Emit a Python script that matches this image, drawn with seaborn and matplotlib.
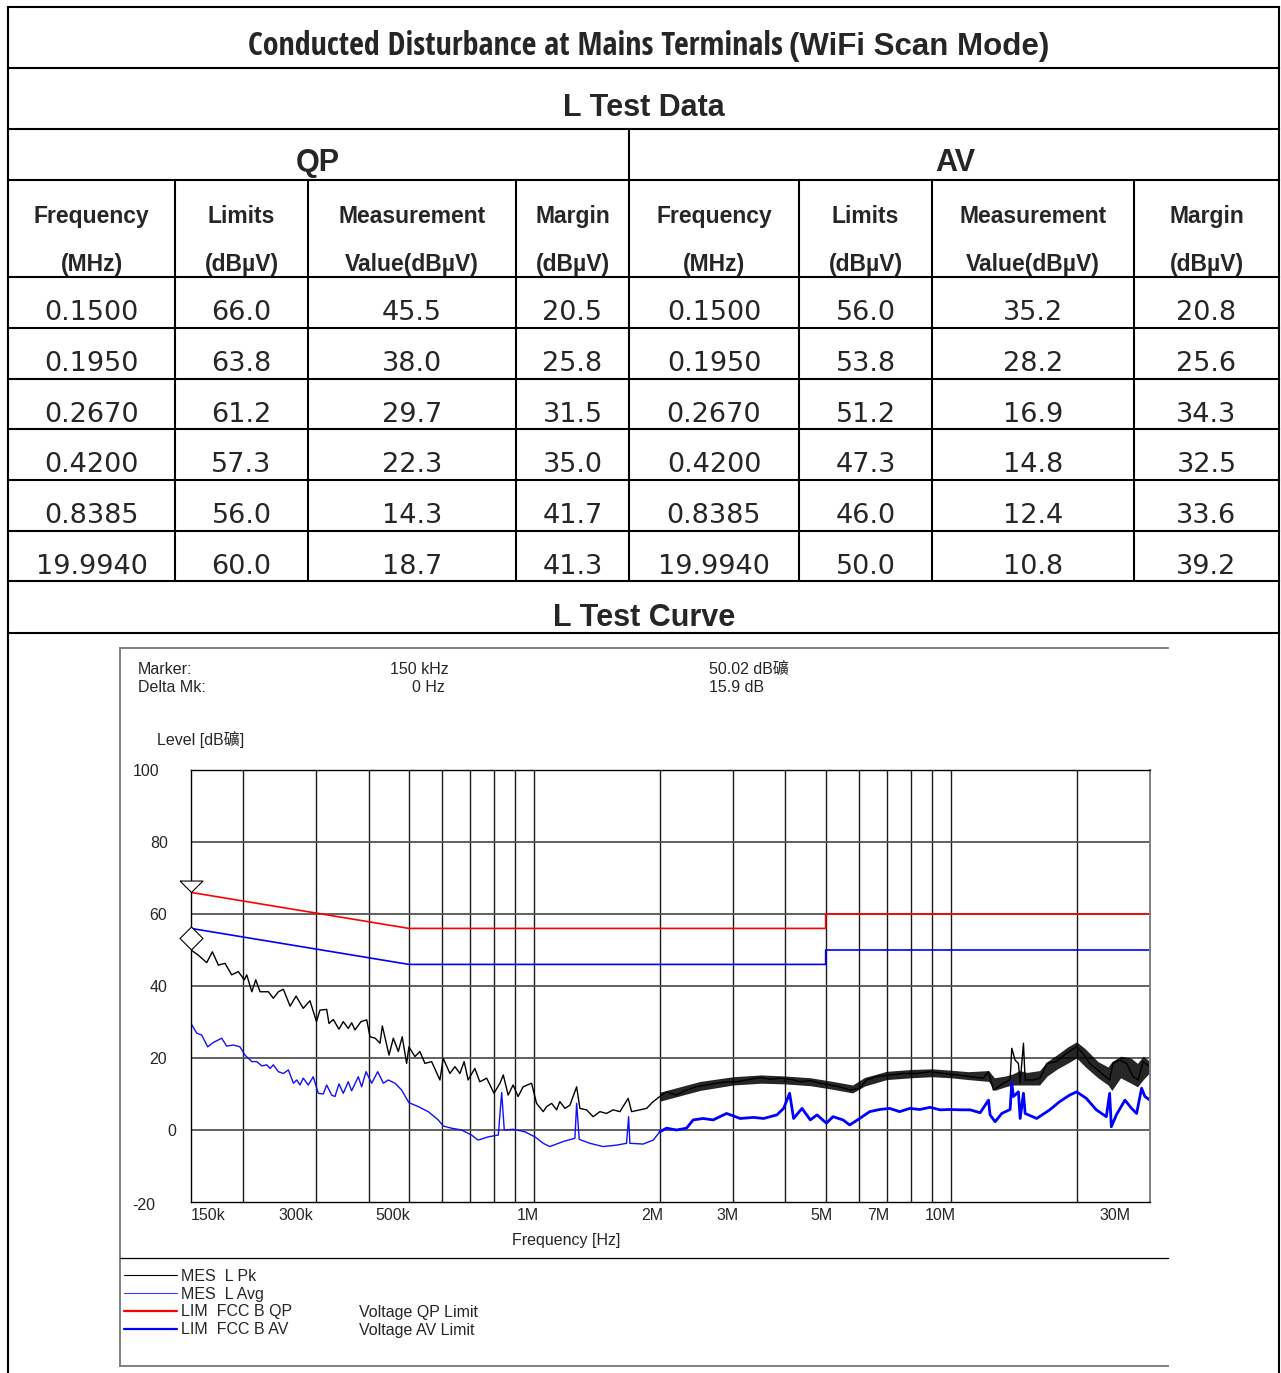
import matplotlib
matplotlib.use("Agg")
import matplotlib.pyplot as plt
import matplotlib.patheffects as pe
import seaborn as sns
from matplotlib.lines import Line2D
from matplotlib.ticker import FixedLocator, NullLocator
from matplotlib import font_manager
from matplotlib.font_manager import FontProperties

# ---------------- table values (L line) ----------------
freq_mhz = [0.1500, 0.1950, 0.2670, 0.4200, 0.8385, 19.9940]
qp_limit = [66.0, 63.8, 61.2, 57.3, 56.0, 60.0]
qp_value = [45.5, 38.0, 29.7, 22.3, 14.3, 18.7]
qp_margin = [20.5, 25.8, 31.5, 35.0, 41.7, 41.3]
av_limit = [56.0, 53.8, 51.2, 47.3, 46.0, 50.0]
av_value = [35.2, 28.2, 16.9, 14.8, 12.4, 10.8]
av_margin = [20.8, 25.6, 34.3, 32.5, 33.6, 39.2]

# ---------------- curve values (MHz, dBuV) ----------------
pk_f = [0.150, 0.156, 0.1636, 0.1688, 0.1745, 0.181, 0.1878, 0.1948, 0.2014, 0.2041,
        0.2099, 0.2145, 0.2197, 0.230, 0.2364, 0.2431, 0.2499, 0.2593, 0.268, 0.2789,
        0.2894, 0.300, 0.3058, 0.3174, 0.3215, 0.3292, 0.3397, 0.3479, 0.3576, 0.3644,
        0.3711, 0.3836, 0.396, 0.4033, 0.415, 0.4262, 0.4317, 0.448, 0.4587, 0.4716,
        0.4818, 0.4937, 0.500, 0.5168, 0.5313, 0.5462, 0.5668, 0.5934, 0.6043, 0.6271,
        0.6447, 0.6627, 0.6783, 0.6935, 0.7196, 0.7397, 0.7684, 0.800, 0.8269, 0.8422,
        0.8649, 0.8891, 0.914, 0.940, 0.9846, 1.012, 1.050, 1.070, 1.100, 1.131,
        1.151, 1.184, 1.217, 1.263, 1.286, 1.334, 1.384, 1.436, 1.490, 1.545,
        1.604, 1.679, 1.711, 1.791, 1.859, 1.928, 2.000, 2.075, 2.193, 2.318,
        2.450, 2.589, 2.736, 2.891, 3.062, 3.236, 3.483, 3.680, 3.889, 4.112,
        4.346, 4.592, 4.853, 5.112, 5.402, 5.709, 6.033, 6.26, 6.617, 7.117,
        7.667, 8.256, 8.90, 9.584, 10.32, 11.11, 11.95, 12.29, 12.63, 13.35,
        13.85, 13.98, 14.24, 14.50, 14.64, 14.91, 15.05, 15.74, 16.35, 16.97,
        17.89, 18.90, 20.0, 20.71, 21.49, 22.71, 24.0, 24.44, 25.36, 26.36,
        27.34, 28.11, 28.89, 30.0]
pk_db = [50.0, 48.6, 46.5, 49.5, 45.8, 46.3, 43.1, 44.0, 41.7, 43.1,
         38.4, 41.7, 38.4, 38.4, 36.6, 38.4, 39.1, 34.4, 37.2, 33.8,
         35.9, 30.1, 33.3, 33.5, 29.6, 30.7, 28.0, 30.1, 28.2, 29.8,
         27.8, 30.1, 30.6, 25.9, 25.5, 24.1, 28.9, 20.8, 25.5, 21.8,
         25.9, 18.5, 23.1, 20.4, 21.8, 18.5, 19.0, 13.9, 19.9, 15.7,
         17.6, 15.7, 19.0, 13.9, 17.1, 13.4, 14.4, 10.2, 13.0, 15.3,
         9.7, 12.5, 9.3, 12.0, 13.0, 7.4, 5.1, 6.5, 7.4, 5.6,
         7.9, 6.0, 6.9, 12.0, 6.0, 5.6, 3.7, 5.1, 4.6, 5.6,
         5.1, 8.8, 5.1, 5.6, 6.0, 7.9, 9.3, 10.6, 9.7, 11.1,
         12.0, 12.5, 13.0, 13.4, 13.4, 13.9, 14.6, 14.1, 14.4, 14.1,
         13.4, 13.7, 13.0, 12.5, 12.0, 11.1, 11.6, 13.9, 14.8, 15.3,
         15.7, 15.7, 16.2, 15.7, 15.3, 14.8, 14.4, 16.2, 11.1, 13.0,
         13.9, 22.7, 19.4, 18.5, 13.0, 24.1, 13.9, 13.9, 14.4, 18.5,
         19.0, 21.3, 23.1, 21.3, 18.5, 16.2, 13.9, 18.5, 19.4, 18.5,
         14.8, 13.9, 19.0, 17.6]

# spread of the noisy peak trace above 2 MHz (lower / upper edge)
pk_band_f = [2.0, 2.5, 3.0, 3.5, 4.0, 4.6, 5.2, 5.8, 6.2, 7.0,
             8.0, 9.0, 10.0, 11.0, 12.3, 12.7, 13.5, 14.0, 14.6, 15.2,
             16.3, 17.0, 18.0, 19.0, 20.0, 21.0, 22.5, 23.8, 24.3, 25.5,
             27.0, 28.0, 28.9, 30.0]
pk_band_lo = [8.0, 11.0, 12.5, 13.0, 12.8, 12.3, 11.3, 10.3, 12.2, 14.0,
              14.5, 14.8, 14.5, 14.0, 13.5, 11.0, 12.0, 12.5, 12.5, 12.5,
              12.5, 15.0, 17.0, 18.5, 20.0, 17.5, 14.5, 12.5, 11.0, 14.5,
              13.0, 12.0, 14.0, 16.0]
pk_band_hi = [10.5, 13.5, 14.8, 15.3, 15.0, 14.5, 13.5, 12.5, 14.6, 16.3,
              16.8, 17.0, 16.6, 16.2, 16.5, 14.5, 15.0, 15.5, 16.5, 16.0,
              16.5, 19.0, 21.0, 23.0, 24.5, 22.5, 19.0, 17.5, 19.0, 20.5,
              20.0, 18.5, 20.5, 19.0]

av_f = [0.150, 0.1548, 0.1591, 0.1645, 0.1697, 0.1777, 0.1827, 0.1895, 0.1966, 0.2022,
        0.2099, 0.2157, 0.2218, 0.228, 0.2322, 0.2364, 0.2431, 0.2499, 0.2569, 0.2641,
        0.2691, 0.2739, 0.2789, 0.2867, 0.2947, 0.303, 0.3115, 0.3174, 0.3263, 0.3323,
        0.3397, 0.3479, 0.3576, 0.3644, 0.378, 0.3851, 0.3945, 0.4071, 0.4208, 0.4341,
        0.4462, 0.4631, 0.4802, 0.500, 0.5264, 0.5562, 0.5879, 0.6043, 0.633, 0.6686,
        0.7066, 0.7329, 0.7752, 0.8193, 0.8347, 0.8468, 0.8891, 0.9489, 1.003, 1.050,
        1.089, 1.173, 1.251, 1.263, 1.281, 1.359, 1.462, 1.575, 1.664, 1.683,
        1.695, 1.824, 1.928, 2.000, 2.075, 2.193, 2.318, 2.404, 2.541, 2.685,
        2.891, 3.118, 3.356, 3.547, 3.819, 3.963, 4.096, 4.188, 4.387, 4.592,
        4.766, 5.02, 5.206, 5.502, 5.709, 6.033, 6.376, 6.738, 7.117, 7.521,
        7.956, 8.408, 8.90, 9.407, 9.945, 10.51, 11.11, 11.74, 12.29, 12.40,
        12.75, 13.23, 13.85, 13.98, 14.11, 14.50, 14.64, 14.91, 15.05, 16.04,
        17.24, 18.22, 19.25, 20.0, 21.10, 22.30, 23.57, 24.0, 24.23, 24.91,
        26.12, 27.10, 27.86, 28.64, 29.17, 30.0]
av_db = [29.6, 26.9, 26.4, 23.1, 24.3, 25.5, 23.3, 23.6, 23.1, 20.8,
         19.0, 19.0, 17.8, 18.1, 17.1, 18.1, 16.2, 15.7, 16.7, 13.0,
         13.9, 12.5, 14.4, 12.5, 14.8, 10.2, 10.0, 12.5, 9.7, 9.3,
         12.8, 10.2, 13.4, 10.9, 14.8, 12.0, 16.2, 13.0, 16.2, 13.0,
         13.9, 13.0, 11.1, 7.6, 6.5, 5.1, 2.8, 1.1, 0.5, 0.0,
         -1.4, -2.8, -1.9, -1.4, 10.4, 0.0, 0.2, -0.5, -1.9, -3.7,
         -4.6, -3.2, -2.3, 7.4, -2.6, -3.7, -4.6, -4.2, -3.7, 3.7,
         -3.7, -3.9, -2.8, -0.5, 0.5, 0.0, 0.5, 2.8, 3.2, 2.8,
         4.6, 3.2, 3.5, 3.2, 4.2, 6.0, 10.2, 3.2, 6.0, 2.8,
         4.2, 1.9, 3.7, 2.8, 1.4, 3.2, 5.1, 5.7, 6.0, 5.1,
         6.0, 5.7, 6.3, 5.6, 5.7, 5.6, 5.6, 4.8, 8.3, 4.2,
         2.3, 4.6, 5.7, 13.0, 9.3, 10.6, 3.2, 10.2, 4.6, 3.2,
         5.6, 7.9, 9.7, 10.6, 8.8, 5.6, 3.7, 10.2, 0.9, 4.2,
         8.3, 6.0, 4.6, 11.6, 9.3, 8.3]

# FCC class B limits
lim_f = [0.15, 0.5, 5.0, 5.0, 30.0]
qp_lim = [66, 56, 56, 60, 60]
av_lim = [56, 46, 46, 50, 50]

# marker symbols at 150 kHz
marker_f = 0.15
marker_qp = 66.0
marker_av = 53.3

tick_f = [0.15, 0.3, 0.5, 1, 2, 3, 5, 7, 10, 30]
tick_labels = ["150k", "300k", "500k", "1M", "2M", "3M", "5M", "7M", "10M", "30M"]
ytick_vals = [100, 80, 60, 40, 20, 0, -20]

legend_labels = ["MES  L Pk", "MES  L Avg", "LIM  FCC B QP", "LIM  FCC B AV"]

# ---------------- style ----------------
sns.set_style("white")
SANS = ["Liberation Sans", "Noto Sans CJK TC", "DejaVu Sans"]
plt.rcParams["font.family"] = SANS

W, H = 1281, 1373
PX = 100 / 72
fig = plt.figure(figsize=(W / 100, H / 100), dpi=100)
renderer = fig.canvas.get_renderer()


def fx(px):
    return px / W


def fy(py):
    return 1 - py / H


def seg(x0, y0, x1, y1, lw=1.5, color="black"):
    fig.add_artist(Line2D([fx(x0), fx(x1)], [fy(y0), fy(y1)], lw=lw, color=color,
                          solid_capstyle="projecting"))


def txt(x, yc, s, size, ha="center", weight="normal", family=None, **kw):
    # yc = visual centre of capitals in pixels
    if "fontproperties" in kw:
        return fig.text(fx(x), fy(yc + 0.358 * size * PX), s, ha=ha, va="baseline", **kw)
    return fig.text(fx(x), fy(yc + 0.358 * size * PX), s, ha=ha, va="baseline",
                    fontsize=size, fontweight=weight, family=family or SANS, **kw)


def _is_bold(w):
    return str(w).lower() in ("bold", "700", "800", "900") or (isinstance(w, int) and w >= 600)


# the first half of the title is set in a condensed bold face: pick the narrowest installed one
TITLE = "Conducted Disturbance at Mains Terminals"
pool = [FontProperties(family="Liberation Sans", weight="bold")]
for f in font_manager.fontManager.ttflist:
    okname = f.name.startswith(("Liberation Sans", "DejaVu Sans", "Noto Sans", "Roboto",
                                "Open Sans", "Lato", "Inter", "Arial"))
    bad = any(k in f.name for k in ("Mono", "CJK", "Serif", "Symbols", "Math"))
    if okname and not bad and _is_bold(f.weight) and str(f.style) == "normal":
        pool.append(FontProperties(fname=f.fname))
best, best_w = pool[0], None
for fp in pool:
    fp = fp.copy()
    fp.set_size(20)
    t = fig.text(0, 0, TITLE, fontproperties=fp)
    w = t.get_window_extent(renderer).width
    t.remove()
    if best_w is None or w < best_w:
        best, best_w = fp, w
title_size = min(23.0, 20 * 548 / best_w)
best.set_size(title_size)

# ---------------- table grid ----------------
rows = [7, 68, 129, 180, 277, 328, 379, 429, 480, 531, 581, 633]
cols = [8, 175, 308, 516, 629, 799, 932, 1134, 1279]
for y in rows:
    seg(8, y, 1279, y)
seg(8, 7, 8, H)
seg(1279, 7, 1279, H)
seg(629, 129, 629, 581)
for x in cols[1:-1]:
    if x != 629:
        seg(x, 180, x, 581)

# title
stroke = [pe.withStroke(linewidth=0.7, foreground="black")] if title_size < 20 else None
txt(783, 44, TITLE, title_size, ha="right", fontproperties=best, path_effects=stroke)
txt(789, 44, "(WiFi Scan Mode)", 22.5, ha="left", weight="bold")
txt(644, 105, "L Test Data", 22, weight="bold")
txt(318, 160, "QP", 22, weight="bold")
txt(955, 160, "AV", 22, weight="bold")
txt(644, 615, "L Test Curve", 22, weight="bold")

head_top = ["Frequency", "Limits", "Measurement", "Margin"] * 2
head_bot = ["(MHz)", "(dB\u00b5V)", "Value(dB\u00b5V)", "(dB\u00b5V)"] * 2
centers = [(cols[i] + cols[i + 1]) / 2 for i in range(8)]
for c, a, b in zip(centers, head_top, head_bot):
    txt(c, 215, a, 16.5, weight="bold")
    txt(c, 263, b, 16.5, weight="bold")

for r in range(6):
    cells = [f"{freq_mhz[r]:.4f}", f"{qp_limit[r]:.1f}", f"{qp_value[r]:.1f}",
             f"{qp_margin[r]:.1f}", f"{freq_mhz[r]:.4f}", f"{av_limit[r]:.1f}",
             f"{av_value[r]:.1f}", f"{av_margin[r]:.1f}"]
    yc = rows[4 + r] + 33
    for c, s in zip(centers, cells):
        txt(c, yc, s, 19.5, family=["DejaVu Sans"])

# ---------------- plot frame ----------------
GRAY = "#808080"
seg(120, 648, 1168, 648, lw=1.4, color=GRAY)
seg(120, 648, 120, 1366, lw=1.4, color=GRAY)
seg(120, 1366, 1168, 1366, lw=1.4, color=GRAY)
seg(120, 1258, 1168, 1258, lw=0.9, color="black")

txt(138, 668, "Marker:", 11.5, ha="left")
txt(138, 686, "Delta Mk:", 11.5, ha="left")
txt(449, 668, "150 kHz", 11.5, ha="right")
txt(445, 686, "0 Hz", 11.5, ha="right")
txt(709, 668, "50.02 dB\u7926", 11.5, ha="left")
txt(709, 686, "15.9 dB", 11.5, ha="left")
txt(157, 739, "Level [dB\u7926]", 11.5, ha="left")
txt(566, 1239, "Frequency [Hz]", 11.5)

# ---------------- spectrum axes ----------------
ax = fig.add_axes([fx(191), fy(1202), 959 / W, 432 / H])
ax.set_xscale("log")

sns.lineplot(x=lim_f, y=qp_lim, ax=ax, color="#ff0000", lw=1.2, estimator=None,
             sort=False, legend=False)
sns.lineplot(x=lim_f, y=av_lim, ax=ax, color="#0000ff", lw=1.2, estimator=None,
             sort=False, legend=False)
ax.fill_between(pk_band_f, pk_band_lo, pk_band_hi, color="black", lw=0, alpha=0.85)
sns.lineplot(x=pk_f, y=pk_db, ax=ax, color="black", lw=1.0, estimator=None,
             sort=False, legend=False)
sns.lineplot(x=av_f, y=av_db, ax=ax, color="#1010ff", lw=1.0, estimator=None,
             sort=False, legend=False)
# the average trace is denser (thicker) above 2 MHz
hf = av_f.index(2.000)
sns.lineplot(x=av_f[hf:], y=av_db[hf:], ax=ax, color="#0000ff", lw=2.0, estimator=None,
             sort=False, legend=False)

tri = [(-1, 1), (1, 1), (0, 0), (-1, 1)]
dia = [(0, 1), (1, 0), (0, -1), (-1, 0), (0, 1)]
ax.plot([marker_f], [marker_qp], marker=tri, ms=16.5, mfc="white", mec="black",
        mew=0.8, ls="none", clip_on=False, zorder=6)
ax.plot([marker_f], [marker_av], marker=dia, ms=16.5, mfc="white", mec="black",
        mew=0.8, ls="none", clip_on=False, zorder=6)

ax.set_xlim(0.15, 30)
ax.set_ylim(-20, 100)
grid_f = [m * d for d in (0.1, 1, 10) for m in range(1, 10) if 0.15 < m * d < 30]
ax.xaxis.set_major_locator(FixedLocator(grid_f))
ax.xaxis.set_minor_locator(NullLocator())
ax.yaxis.set_major_locator(FixedLocator([0, 20, 40, 60, 80]))
ax.tick_params(length=0, labelbottom=False, labelleft=False)
ax.grid(axis="x", color="#1a1a1a", lw=1.0)
ax.grid(axis="y", color="#555555", lw=1.3)
ax.set_axisbelow(True)
ax.set_xlabel("")
ax.set_ylabel("")
for side in ("top", "left", "bottom"):
    ax.spines[side].set_color("black")
    ax.spines[side].set_linewidth(1.0)
ax.spines["right"].set_color(GRAY)
ax.spines["right"].set_linewidth(1.4)

# frequency labels (pixel offsets of the label's right edge from its grid line)
xdx = [0, -3, 1, 5, 4, 5, 7, 3, 5, -19]
for f, lab, dx in zip(tick_f, tick_labels, xdx):
    ax.annotate(lab, xy=(f, 0), xycoords=("data", "axes fraction"),
                xytext=(dx / PX, -18 / PX), textcoords="offset points",
                ha="left" if lab == "150k" else "right", va="baseline", fontsize=11.5)

ydx = {100: -32, 80: -23, 60: -24, 40: -24, 20: -24, 0: -15, -20: -36}
for v in ytick_vals:
    ax.annotate(str(v), xy=(0, v), xycoords=("axes fraction", "data"),
                xytext=(ydx[v] / PX, -0.358 * 11.5 - (2 / PX if v == -20 else 0)),
                textcoords="offset points", ha="right", va="baseline", fontsize=11.5)

# ---------------- legend ----------------
handles = [Line2D([], [], color="black", lw=0.8),
           Line2D([], [], color="#3a3aff", lw=0.8),
           Line2D([], [], color="#ff0000", lw=1.6),
           Line2D([], [], color="#0000ff", lw=1.6)]
fig.legend(handles, legend_labels, loc="upper left", bbox_to_anchor=(fx(124), fy(1269)),
           frameon=False, fontsize=11.5, handlelength=3.3, handletextpad=0.25,
           labelspacing=0.17, borderpad=0, borderaxespad=0)
txt(359, 1311, "Voltage QP Limit", 11.5, ha="left")
txt(359, 1329, "Voltage AV Limit", 11.5, ha="left")

fig.savefig("out.png", dpi=100)
